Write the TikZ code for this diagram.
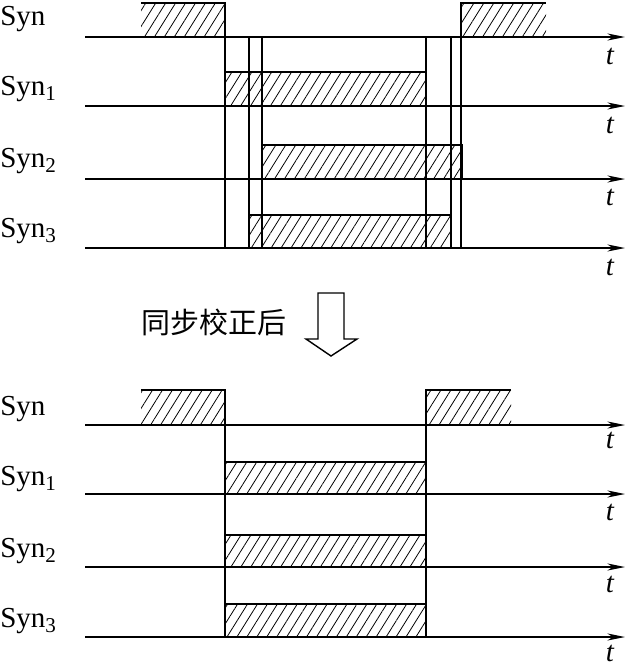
\documentclass[tikz,border=0pt]{standalone}
\usepackage{fontspec}
\setmainfont{Liberation Serif}
\newfontfamily\cjk{Noto Sans CJK SC}
\usetikzlibrary{arrows.meta,patterns.meta}

\newcommand{\sub}[1]{\raisebox{-0.35ex}{\fontsize{12}{12}\selectfont #1}}

\tikzset{
  hatch/.style={pattern={Lines[angle=58,distance=4.8pt,line width=0.45pt]}},
  wave/.style={line width=1.5pt},
  axis/.style={line width=0.8pt,-{Stealth[length=10pt,width=4pt,inset=3pt]}},
  mark line/.style={line width=0.6pt},
  sig/.style={anchor=west,inner sep=0pt,font=\fontsize{16.5}{18}\selectfont},
  tlab/.style={inner sep=0pt,font=\fontsize{16.5}{18}\selectfont\itshape}
}

\begin{document}
\begin{tikzpicture}[x=0.02cm,y=-0.02cm]
        \useasboundingbox (0,0) rectangle (627,666);
        \node[sig] (S0) at (0,19) {Syn};
        \node[sig] (S1) at (0,89) {Syn\sub{1}};
        \node[sig] (S2) at (0,161) {Syn\sub{2}};
        \node[sig] (S3) at (0,231) {Syn\sub{3}};
        \node[tlab] (T0) at (610,56) {t};
        \node[tlab] (T1) at (610,125) {t};
        \node[tlab] (T2) at (610,197) {t};
        \node[tlab] (T3) at (610,267) {t};
        \fill[hatch] (141,3) rectangle (225,37) (461,3) rectangle (546,37);
        \fill[hatch] (225,72) rectangle (426,106);
        \fill[hatch] (262,145) rectangle (462,179);
        \fill[hatch] (249,215) rectangle (451,248);
        \draw[axis] (85,37) -- (625,37);
        \draw[axis] (85,106) -- (625,106);
        \draw[axis] (85,179) -- (625,179);
        \draw[axis] (85,248) -- (625,248);
        \draw[mark line] (225,37) -- (225,248) (249,37) -- (249,248)
        (262,37) -- (262,248) (426,37) -- (426,248)
        (451,37) -- (451,248) (461,37) -- (461,248);
        \draw[wave] (141,3) -| (225,37) -- (461,37) |- (546,3);
        \draw[wave] (225,106) |- (426,72) -- (426,106);
        \draw[wave] (262,179) |- (462,145) -- (462,179);
        \draw[wave] (249,248) |- (451,215) -- (451,248);
        \node[inner sep=0pt,font=\cjk\fontsize{16.5}{18}\selectfont] (C) at (214,322) {同步校正后};
        \draw[line width=0.8pt] (318,293) -- (344,293) -- (344,339) -- (357,339)
        -- (331,356) -- (306,339) -- (318,339) -- cycle;
        \node[sig] (B0) at (0,409) {Syn};
        \node[sig] (B1) at (0,479) {Syn\sub{1}};
        \node[sig] (B2) at (0,551) {Syn\sub{2}};
        \node[sig] (B3) at (0,621) {Syn\sub{3}};
        \node[tlab] (U0) at (610,440) {t};
        \node[tlab] (U1) at (610,512) {t};
        \node[tlab] (U2) at (610,584) {t};
        \node[tlab] (U3) at (610,653) {t};
        \fill[hatch] (141,390) rectangle (225,425) (426,390) rectangle (511,425);
        \fill[hatch] (225,462) rectangle (426,494);
        \fill[hatch] (225,535) rectangle (426,567);
        \fill[hatch] (225,604) rectangle (426,637);
        \draw[axis] (85,425) -- (625,425);
        \draw[axis] (85,494) -- (625,494);
        \draw[axis] (85,567) -- (625,567);
        \draw[axis] (85,637) -- (625,637);
        \draw[mark line] (225,425) -- (225,637) (426,425) -- (426,637);
        \draw[wave] (141,390) -| (225,425) -- (426,425) |- (511,390);
        \draw[wave] (225,494) |- (426,462) -- (426,494);
        \draw[wave] (225,567) |- (426,535) -- (426,567);
        \draw[wave] (225,637) |- (426,604) -- (426,637);
      \end{tikzpicture}
\end{document}
